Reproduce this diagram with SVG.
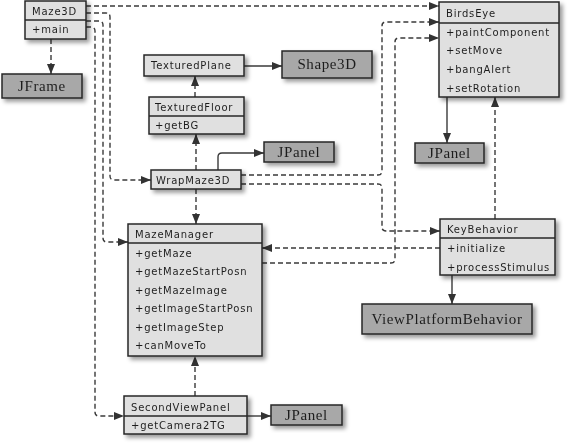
<svg xmlns="http://www.w3.org/2000/svg" width="572" height="448" viewBox="0 0 572 448">
<style>
.cls{fill:#e0e0e0;stroke:#262626;stroke-width:1.5}
.ext{fill:#a8a8a8;stroke:#262626;stroke-width:1.5}
.div{stroke:#262626;stroke-width:1.5}
.t{font-family:"DejaVu Sans",sans-serif;font-size:10px;letter-spacing:0.8px;fill:#1e1e1e}
.s{font-family:"Liberation Serif",serif;font-size:15px;letter-spacing:0.6px;fill:#1e1e1e;text-anchor:middle}
.dash{fill:none;stroke:#3a3a3a;stroke-width:1.4;stroke-dasharray:5 3;marker-end:url(#ah)}
.solid{fill:none;stroke:#3a3a3a;stroke-width:1.4;marker-end:url(#ah)}
</style>
<defs>
<marker id="ah" markerWidth="10" markerHeight="8" refX="10" refY="4" orient="auto" markerUnits="userSpaceOnUse">
<path d="M0,0 L10,4 L0,8 z" fill="#333"/>
</marker>
<filter id="sh" x="-20%" y="-20%" width="150%" height="160%">
<feDropShadow dx="3" dy="3" stdDeviation="2" flood-color="#000" flood-opacity="0.4"/>
</filter>
</defs>
<rect width="572" height="448" fill="#fff"/>
<g id="connectors">
<path class="dash" d="M86,6 H439"/>
<path class="dash" d="M86,13 H106 Q110,13 110,17 V176 Q110,180 114,180 H151"/>
<path class="dash" d="M86,21 H99 Q103,21 103,25 V238 Q103,242 107,242 H128"/>
<path class="dash" d="M86,27 H91 Q95,27 95,31 V412 Q95,416 99,416 H124"/>
<path class="dash" d="M51,39 V74"/>
<path class="solid" d="M244,66 H282"/>
<path class="dash" d="M195,97 V76"/>
<path class="dash" d="M196,170 V134"/>
<path class="dash" d="M196,189 V224"/>
<path class="solid" d="M218,170 V157 Q218,153 222,153 H264"/>
<path class="dash" d="M241,175 H378 Q382,175 382,171 V26 Q382,22 386,22 H439"/>
<path class="dash" d="M241,184 H378 Q382,184 382,188 V227 Q382,231 386,231 H440"/>
<path class="dash" d="M262,263 H391 Q395,263 395,259 V42 Q395,38 399,38 H439"/>
<path class="dash" d="M440,248 H262"/>
<path class="dash" d="M495,219 V97"/>
<path class="solid" d="M452,275 V304"/>
<path class="solid" d="M447,97 V143"/>
<path class="dash" d="M195,396 V356"/>
<path class="solid" d="M247,416 H271"/>
</g>
<g id="Maze3D" filter="url(#sh)">
<rect class="cls" x="25" y="1" width="61" height="38"/>
<line class="div" x1="25" y1="20" x2="86" y2="20"/>
<text class="t" x="32" y="15">Maze3D</text>
<text class="t" x="32" y="33">+main</text>
</g>
<g id="JFrame" filter="url(#sh)">
<rect class="ext" x="2" y="74" width="80" height="24"/>
<text class="s" x="42" y="91">JFrame</text>
</g>
<g id="TexturedPlane" filter="url(#sh)">
<rect class="cls" x="144" y="55" width="100" height="21"/>
<text class="t" x="151" y="69">TexturedPlane</text>
</g>
<g id="Shape3D" filter="url(#sh)">
<rect class="ext" x="282" y="51" width="90" height="27"/>
<text class="s" x="327" y="69">Shape3D</text>
</g>
<g id="TexturedFloor" filter="url(#sh)">
<rect class="cls" x="149" y="97" width="95" height="37"/>
<line class="div" x1="149" y1="116" x2="244" y2="116"/>
<text class="t" x="155" y="111">TexturedFloor</text>
<text class="t" x="155" y="129">+getBG</text>
</g>
<g id="BirdsEye" filter="url(#sh)">
<rect class="cls" x="439" y="2" width="120" height="95"/>
<line class="div" x1="439" y1="23" x2="559" y2="23"/>
<text class="t" x="446" y="17">BirdsEye</text>
<text class="t" x="446" y="36">+paintComponent</text>
<text class="t" x="446" y="54">+setMove</text>
<text class="t" x="446" y="73">+bangAlert</text>
<text class="t" x="446" y="92">+setRotation</text>
</g>
<g id="JPanel1" filter="url(#sh)">
<rect class="ext" x="415" y="143" width="69" height="20"/>
<text class="s" x="449.5" y="158">JPanel</text>
</g>
<g id="WrapMaze3D" filter="url(#sh)">
<rect class="cls" x="151" y="170" width="90" height="19"/>
<text class="t" x="156" y="184">WrapMaze3D</text>
</g>
<g id="JPanel2" filter="url(#sh)">
<rect class="ext" x="264" y="142" width="70" height="20"/>
<text class="s" x="299" y="157">JPanel</text>
</g>
<g id="MazeManager" filter="url(#sh)">
<rect class="cls" x="128" y="224" width="134" height="132"/>
<line class="div" x1="128" y1="243" x2="262" y2="243"/>
<text class="t" x="135" y="238">MazeManager</text>
<text class="t" x="135" y="257">+getMaze</text>
<text class="t" x="135" y="275">+getMazeStartPosn</text>
<text class="t" x="135" y="294">+getMazeImage</text>
<text class="t" x="135" y="312">+getImageStartPosn</text>
<text class="t" x="135" y="331">+getImageStep</text>
<text class="t" x="135" y="349">+canMoveTo</text>
</g>
<g id="KeyBehavior" filter="url(#sh)">
<rect class="cls" x="440" y="219" width="115" height="56"/>
<line class="div" x1="440" y1="238" x2="555" y2="238"/>
<text class="t" x="447" y="233">KeyBehavior</text>
<text class="t" x="447" y="252">+initialize</text>
<text class="t" x="447" y="271">+processStimulus</text>
</g>
<g id="ViewPlatformBehavior" filter="url(#sh)">
<rect class="ext" x="362" y="304" width="170" height="30"/>
<text class="s" x="447" y="324">ViewPlatformBehavior</text>
</g>
<g id="SecondViewPanel" filter="url(#sh)">
<rect class="cls" x="124" y="396" width="123" height="38"/>
<line class="div" x1="124" y1="416" x2="247" y2="416"/>
<text class="t" x="131" y="411">SecondViewPanel</text>
<text class="t" x="131" y="429">+getCamera2TG</text>
</g>
<g id="JPanel3" filter="url(#sh)">
<rect class="ext" x="271" y="405" width="71" height="20"/>
<text class="s" x="306.5" y="420">JPanel</text>
</g>
</svg>
